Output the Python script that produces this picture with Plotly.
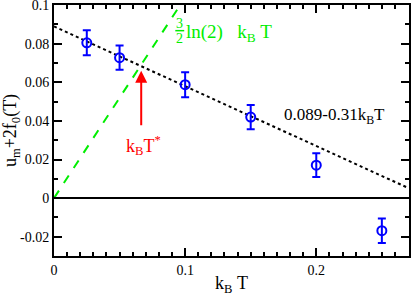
import numpy as np
import plotly.graph_objects as go

kT = [0.025, 0.05, 0.1, 0.15, 0.2, 0.25]
uval = [0.0805, 0.0728, 0.0588, 0.0420, 0.0171, -0.0169]
uerr = [0.0065, 0.0063, 0.0065, 0.0063, 0.0062, 0.0063]

fit_a, fit_b = 0.089, -0.31
fit_x = [0.0, 0.27]
fit_y = [fit_a + fit_b * x for x in fit_x]

green_coef = 1.5 * np.log(2)
green_x = [0.0, 0.1 / green_coef]
green_y = [green_coef * x for x in green_x]

ytick_vals = [-0.02, 0, 0.02, 0.04, 0.06, 0.08, 0.1]
ytick_text = ["-0.02", "0", "0.02", "0.04", "0.06", "0.08", "0.1"]
xtick_vals = [0, 0.1, 0.2]
xtick_text = ["0", "0.1", "0.2"]

font = "Liberation Serif"
green = "#00ee00"

fig = go.Figure()
fig.add_trace(go.Scatter(x=[0, 0.27], y=[0, 0], mode="lines",
                         line=dict(color="black", width=2), showlegend=False))
fig.add_trace(go.Scatter(x=fit_x, y=fit_y, mode="lines",
                         line=dict(color="black", width=2, dash="dot"), showlegend=False))
fig.add_trace(go.Scatter(x=green_x, y=green_y, mode="lines",
                         line=dict(color=green, width=2, dash="dash"), showlegend=False))
fig.add_trace(go.Scatter(x=kT, y=uval, mode="markers",
                         marker=dict(symbol="circle-open", size=9, color="blue",
                                     line=dict(width=2, color="blue")),
                         error_y=dict(type="data", array=uerr, color="blue",
                                      thickness=2, width=4),
                         showlegend=False))

# red arrow and label
fig.add_annotation(x=0.0665, y=0.066, ax=0.0665, ay=0.037, xref="x", yref="y",
                   axref="x", ayref="y", showarrow=True, arrowhead=2,
                   arrowsize=1.2, arrowwidth=2, arrowcolor="red", text="")
fig.add_annotation(x=0.0535, y=0.0275, xref="x", yref="y", showarrow=False, xanchor="left",
                   text="k<sub>B</sub>T<sup>*</sup>", font=dict(color="red", size=18, family=font))

# green label: stacked 3/2 fraction + ln(2) kBT
fig.add_annotation(x=0.0958, y=0.0905, xref="x", yref="y", showarrow=False,
                   text="3", font=dict(color=green, size=14, family=font))
fig.add_annotation(x=0.0958, y=0.0827, xref="x", yref="y", showarrow=False,
                   text="2", font=dict(color=green, size=14, family=font))
fig.add_shape(type="line", x0=0.0925, x1=0.0993, y0=0.0868, y1=0.0868,
              xref="x", yref="y", line=dict(color=green, width=1.5))
fig.add_annotation(x=0.0995, y=0.0855, xref="x", yref="y", showarrow=False, xanchor="left",
                   text="ln(2)&nbsp;&nbsp; k<sub>B</sub>&nbsp;T",
                   font=dict(color=green, size=19, family=font))

fig.add_annotation(x=0.174, y=0.0425, xref="x", yref="y", showarrow=False, xanchor="left",
                   text="0.089-0.31k<sub>B</sub>T",
                   font=dict(color="black", size=17, family=font))

axis_common = dict(showgrid=False, zeroline=False, showline=True, linewidth=2,
                   linecolor="black", mirror="allticks", ticks="inside",
                   ticklen=8, tickwidth=2, tickcolor="black", automargin=False,
                   ticklabeloverflow="allow",
                   tickfont=dict(size=14, family=font, color="black"))

fig.update_xaxes(range=[0, 0.2707], tickvals=xtick_vals, ticktext=xtick_text,
                 title=dict(text="k<sub>B</sub>&nbsp;T", font=dict(size=18, family=font, color="black")),
                 minor=dict(dtick=0.01, tick0=0, ticks="inside", ticklen=4, tickwidth=2,
                            tickcolor="black"),
                 **axis_common)
fig.update_yaxes(range=[-0.03, 0.1001], tickvals=ytick_vals, ticktext=ytick_text,
                 title=dict(text="u<sub>m</sub>+2f<sub>0</sub>(T)",
                            font=dict(size=18, family=font, color="black")),
                 minor=dict(dtick=0.01, tick0=0, ticks="inside", ticklen=4, tickwidth=2,
                            tickcolor="black"),
                 **axis_common)

fig.update_layout(width=411, height=296, margin=dict(l=54, r=2, t=5, b=40),
                  plot_bgcolor="white", paper_bgcolor="white",
                  font=dict(family=font))

fig.write_html("out.html", config={"displayModeBar": False},
               post_script="document.body.style.margin='0';")
